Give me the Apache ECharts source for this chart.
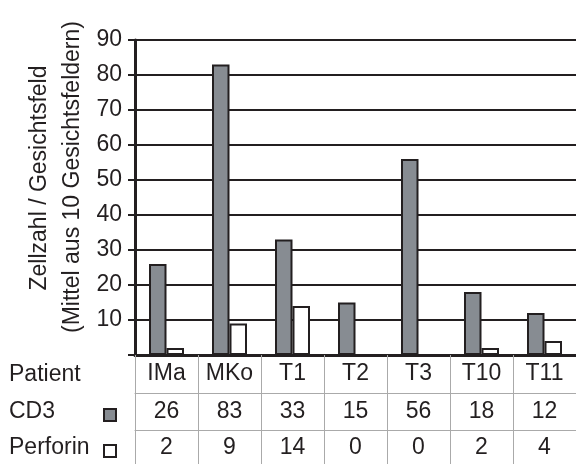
<!DOCTYPE html>
<html>
<head>
<meta charset="utf-8">
<script src="https://cdn.jsdelivr.net/npm/echarts@6/dist/echarts.min.js"></script>
<style>html,body{margin:0;padding:0;background:#fff}#c{width:576px;height:464px}</style>
</head>
<body>
<div id="c"></div>
<script>
const categories = ['IMa', 'MKo', 'T1', 'T2', 'T3', 'T10', 'T11'];
const cd3 = [26, 83, 33, 15, 56, 18, 12];
const perforin = [2, 9, 14, 0, 0, 2, 4];
const rowLabels = ['Patient', 'CD3', 'Perforin'];
const yTitle1 = 'Zellzahl / Gesichtsfeld';
const yTitle2 = '(Mittel aus 10 Gesichtsfeldern)';

const FONT = 'Liberation Sans, Arial, sans-serif';
const FS = 23;
const INK = '#231f20';
const GRAY = '#878c92';
const TABLE_LINE = '#aaaaaa';

const chart = echarts.init(document.getElementById('c'), null, {renderer: 'canvas'});
chart.setOption({
  animation: false,
  backgroundColor: '#ffffff',
  grid: {left: 135, right: 0, top: 40, bottom: 109, containLabel: false},
  legend: [
    {data: ['CD3'], left: 103, top: 408, padding: 0, icon: 'rect', itemWidth: 12, itemHeight: 12,
     formatter: () => '', selectedMode: false,
     itemStyle: {borderColor: INK, borderWidth: 2}},
    {data: ['Perforin'], left: 103, top: 444, padding: 0, icon: 'rect', itemWidth: 12, itemHeight: 12,
     formatter: () => '', selectedMode: false,
     itemStyle: {borderColor: INK, borderWidth: 2}}
  ],
  xAxis: [
    {type: 'category', data: categories, boundaryGap: true, position: 'bottom',
     axisLine: {lineStyle: {color: INK, width: 3}},
     axisTick: {show: true, length: 109, lineStyle: {color: TABLE_LINE, width: 1}},
     axisLabel: {margin: 7, fontFamily: FONT, fontSize: FS, color: INK, interval: 0},
     splitLine: {show: false}},
    {type: 'category', data: cd3.map(String), boundaryGap: true, position: 'bottom', offset: 38,
     axisLine: {lineStyle: {color: TABLE_LINE, width: 1}},
     axisTick: {show: false},
     axisLabel: {margin: 7, fontFamily: FONT, fontSize: FS, color: INK, interval: 0}},
    {type: 'category', data: perforin.map(String), boundaryGap: true, position: 'bottom', offset: 75,
     axisLine: {lineStyle: {color: TABLE_LINE, width: 1}},
     axisTick: {show: false},
     axisLabel: {margin: 6, fontFamily: FONT, fontSize: FS, color: INK, interval: 0}}
  ],
  yAxis: {
    type: 'value', min: 0, max: 90, interval: 10,
    axisLine: {show: true, lineStyle: {color: INK, width: 3}},
    axisTick: {show: true, length: 7, lineStyle: {color: INK, width: 2}},
    axisLabel: {margin: 13, fontFamily: FONT, fontSize: FS, color: INK,
      formatter: v => v === 0 ? '' : String(v)},
    splitLine: {show: true, lineStyle: {color: INK, width: 2}}
  },
  series: [
    {name: 'CD3', type: 'bar', data: cd3, barWidth: 17.5, barGap: '0%', xAxisIndex: 0,
     itemStyle: {color: GRAY, borderColor: INK, borderWidth: 2}},
    {name: 'Perforin', type: 'bar', data: perforin, barWidth: 17.5, barGap: '0%', xAxisIndex: 0,
     itemStyle: {color: '#ffffff', borderColor: INK, borderWidth: 2}}
  ],
  graphic: [
    {type: 'text', x: 40, y: 178, rotation: Math.PI / 2,
     style: {text: yTitle1, font: `${FS}px ${FONT}`, fill: INK, align: 'center', verticalAlign: 'middle'}},
    {type: 'text', x: 73, y: 177, rotation: Math.PI / 2,
     style: {text: yTitle2, font: `${FS}px ${FONT}`, fill: INK, align: 'center', verticalAlign: 'middle'}},
    {type: 'text', x: 9, y: 375,
     style: {text: rowLabels[0], font: `${FS}px ${FONT}`, fill: INK, align: 'left', verticalAlign: 'middle'}},
    {type: 'text', x: 9, y: 412,
     style: {text: rowLabels[1], font: `${FS}px ${FONT}`, fill: INK, align: 'left', verticalAlign: 'middle'}},
    {type: 'text', x: 9, y: 448,
     style: {text: rowLabels[2], font: `${FS}px ${FONT}`, fill: INK, align: 'left', verticalAlign: 'middle'}}
  ]
});
</script>
</body>
</html>
